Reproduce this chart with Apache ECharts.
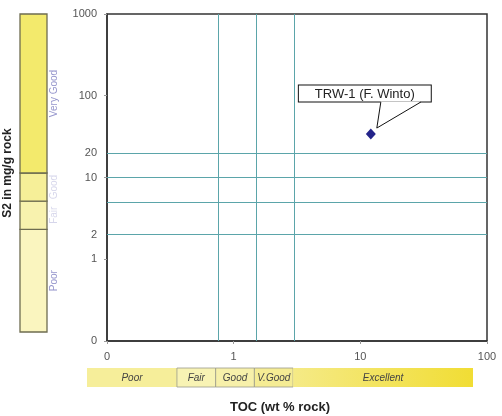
<!DOCTYPE html>
<html><head><meta charset="utf-8">
<script src="https://cdn.jsdelivr.net/npm/echarts@6/dist/echarts.min.js"></script>
<style>html,body{margin:0;padding:0;background:#fff}#chart{width:502px;height:416px}</style>
</head><body><div id="chart"></div>
<script>
// Sample plotted on the TOC / S2 screening diagram
const sampleName = 'TRW-1 (F. Winto)';
const sampleToc = [12.1];
const sampleS2 = [34];

// Reference lines across the plot
const s2Lines = [20, 10, 5, 2];
const s2LineLabels = ['20', '', '', '2'];
const tocLines = [0.75, 1.5, 3];

// Source-rock quality classes
const s2Classes = ['Poor', 'Fair', 'Good', 'Very Good'];
const s2Limits = [2.5, 5, 10];
const tocClasses = ['Poor', 'Fair', 'Good', 'V.Good', 'Excellent'];
const tocLimits = [0.5, 1, 2, 4];

const FONT = '"Liberation Sans", Arial, sans-serif';
const S2_STRIP_MIN = 0.2, S2_STRIP_MAX = 500;
const TOC_STRIP_MIN = 0.1, TOC_STRIP_MAX = 100;

function toBands(limits, lo, hi) {
  const edges = [lo].concat(limits, [hi]);
  return edges.slice(0, -1).map((e, i) => [e, edges[i + 1]]);
}

const s2Fill = ['#faf5bf', '#f8f2ae', '#f6ef98', '#f3ea6c'];
const s2TextAlpha = [0.9, 0.35, 0.35, 0.9];
const tocFill = [
  '#f6ee9a', '#f8f3b4', '#f7f0aa', '#f5ec94',
  { type: 'linear', x: 0, y: 0, x2: 1, y2: 0,
    colorStops: [{ offset: 0, color: '#f5ea86' }, { offset: 1, color: '#f1dd34' }] }
];
const tocBorder = [null, '#9a9a8a', '#9a9a8a', '#9a9a8a', null];

function s2Band(params, api) {
  const i = params.dataIndex;
  const a = api.coord([0, api.value(1)]);
  const b = api.coord([1, api.value(0)]);
  return { type: 'group', children: [
    { type: 'rect', shape: { x: a[0], y: a[1], width: b[0] - a[0], height: b[1] - a[1] },
      style: { fill: s2Fill[i], stroke: '#6e6c50', lineWidth: 1.3 } },
    { type: 'text', x: b[0] + 7, y: (a[1] + b[1]) / 2, rotation: Math.PI / 2,
      style: { text: s2Classes[i], fill: '#8a8ac6', opacity: s2TextAlpha[i],
               font: '10px ' + FONT, align: 'center', verticalAlign: 'middle' } }
  ]};
}

function tocBand(params, api) {
  const i = params.dataIndex;
  const a = api.coord([api.value(0), 1]);
  const b = api.coord([api.value(1), 0]);
  return { type: 'group', children: [
    { type: 'rect', shape: { x: a[0], y: a[1], width: b[0] - a[0], height: b[1] - a[1] },
      style: { fill: tocFill[i], stroke: tocBorder[i], lineWidth: tocBorder[i] ? 0.8 : 0 } },
    { type: 'text', x: (a[0] + b[0]) / 2, y: (a[1] + b[1]) / 2 + 1,
      style: { text: tocClasses[i], fill: '#444', font: 'italic 10px ' + FONT,
               align: 'center', verticalAlign: 'middle' } }
  ]};
}

const hidden = { axisLine: { show: false }, axisTick: { show: false }, axisLabel: { show: false }, splitLine: { show: false } };

const chart = echarts.init(document.getElementById('chart'));
chart.setOption({
  animation: false,
  grid: [
    { left: 107, right: 15, top: 14, bottom: 75, show: true, borderColor: '#333', borderWidth: 1.5 },
    { left: 20, width: 27, top: 14, height: 318 },
    { left: 87, width: 386, top: 368, height: 19 }
  ],
  xAxis: [
    { type: 'log', gridIndex: 0, min: 0.1, max: 100,
      axisLine: { lineStyle: { color: '#333', width: 1.5 } },
      axisTick: { show: true, length: 3, lineStyle: { color: '#999' } },
      axisLabel: { color: '#555', fontSize: 11, fontFamily: FONT, margin: 10,
                   formatter: v => (v < 1 ? '0' : String(Math.round(v))) },
      splitLine: { show: false } },
    Object.assign({ type: 'value', gridIndex: 1, min: 0, max: 1 }, hidden),
    Object.assign({ type: 'log', gridIndex: 2, min: TOC_STRIP_MIN, max: TOC_STRIP_MAX,
      name: 'TOC (wt % rock)', nameLocation: 'middle', nameGap: 14,
      nameTextStyle: { fontSize: 13, fontWeight: 'bold', color: '#222', fontFamily: FONT } }, hidden)
  ],
  yAxis: [
    { type: 'log', gridIndex: 0, min: 0.1, max: 1000,
      axisLine: { lineStyle: { color: '#333', width: 1.5 } },
      axisTick: { show: true, length: 3, lineStyle: { color: '#999' } },
      axisLabel: { color: '#555', fontSize: 11, fontFamily: FONT, margin: 10,
                   formatter: v => (v < 1 ? '0' : String(Math.round(v))) },
      splitLine: { show: false } },
    Object.assign({ type: 'log', gridIndex: 1, min: S2_STRIP_MIN, max: S2_STRIP_MAX,
      name: 'S2 in mg/g rock', nameLocation: 'middle', nameGap: 6,
      nameTextStyle: { fontSize: 12, fontWeight: 'bold', color: '#222', fontFamily: FONT } }, hidden),
    Object.assign({ type: 'value', gridIndex: 2, min: 0, max: 1 }, hidden)
  ],
  series: [
    { type: 'scatter', xAxisIndex: 0, yAxisIndex: 0,
      data: sampleToc.map((x, i) => [x, sampleS2[i]]),
      symbol: 'diamond', symbolSize: [10, 11], itemStyle: { color: '#24248a', opacity: 1 },
      label: { show: true, position: 'top', distance: 27, offset: [-6, 0],
               formatter: sampleName, backgroundColor: '#fff', borderColor: '#111', borderWidth: 1,
               padding: [2, 16, 1, 16], fontSize: 13, color: '#222', fontFamily: FONT },
      markLine: { silent: true, symbol: 'none', animation: false,
        lineStyle: { color: '#5ba5aa', width: 1, type: 'solid' },
        label: { show: false },
        emphasis: { disabled: true },
        data: s2Lines.map((v, i) => ({ yAxis: v,
            label: { show: !!s2LineLabels[i], position: 'start', formatter: s2LineLabels[i],
                     color: '#555', fontSize: 11, fontFamily: FONT, distance: 10 } }))
          .concat(tocLines.map(v => ({ xAxis: v }))) } },
    { type: 'custom', xAxisIndex: 1, yAxisIndex: 1, renderItem: s2Band, silent: true,
      data: toBands(s2Limits, S2_STRIP_MIN, S2_STRIP_MAX) },
    { type: 'custom', xAxisIndex: 2, yAxisIndex: 2, renderItem: tocBand, silent: true,
      data: toBands(tocLimits, TOC_STRIP_MIN, TOC_STRIP_MAX) }
  ]
});

// Callout pointer from the label box down to the sample marker
const p = chart.convertToPixel({ seriesIndex: 0 }, [sampleToc[0], sampleS2[0]]);
const base1 = [p[0] + 10, p[1] - 32], tip = [p[0] + 6, p[1] - 6], base2 = [p[0] + 50, p[1] - 32];
chart.setOption({ graphic: [
  { type: 'polygon', z: 100, shape: { points: [[base1[0], base1[1] - 0.5], tip, [base2[0], base2[1] - 0.5]] }, style: { fill: '#fff' } },
  { type: 'polyline', z: 101, shape: { points: [base1, tip, base2] }, style: { stroke: '#111', fill: null, lineWidth: 1 } }
]});
</script></body></html>
